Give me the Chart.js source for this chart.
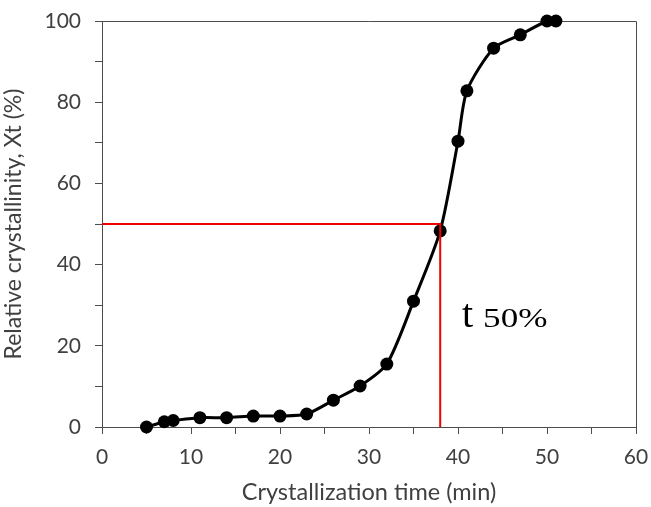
<!DOCTYPE html>
<html>
<head>
<meta charset="utf-8">
<script src="https://cdn.jsdelivr.net/npm/chart.js@4.4.1/dist/chart.umd.min.js"></script>
<style>
html,body{margin:0;padding:0;background:#fff;}
#c{display:block;}
</style>
</head>
<body>
<canvas id="c" width="651" height="507"></canvas>
<script>
// Data
const timeMin = [5, 7, 8, 11, 14, 17, 20, 23, 26, 29, 32, 35, 38, 40, 41, 44, 47, 50, 51];
const crystallinity = [0, 1.3, 1.6, 2.3, 2.3, 2.7, 2.7, 3.2, 6.6, 10.1, 15.5, 31, 48.3, 70.4, 82.8, 93.3, 96.6, 100, 100];
const t50GuideX = [0, 38, 38];
const t50GuideY = [50, 50, 0];
const xMajorTicks = [0, 10, 20, 30, 40, 50, 60];
const yMajorTicks = [0, 20, 40, 60, 80, 100];
const xTitle = 'Crystallization time (min)';
const yTitle = 'Relative crystallinity, Xt (%)';
const annoMain = 't';
const annoSub = '50%';
const annoPos = [40.45, 24.6]; // data coords of annotation

const axisGrey = '#4d4d4d';
const textGrey = '#404040';
const mainFont = 'Lato, "Open Sans", sans-serif';

const curve = timeMin.map((x, i) => ({x, y: crystallinity[i]}));
const guide = t50GuideX.map((x, i) => ({x, y: t50GuideY[i]}));

const framePlugin = {
  id: 'frame',
  beforeDatasetsDraw(chart) {
    const {ctx, chartArea: a} = chart;
    ctx.save();
    ctx.strokeStyle = axisGrey;
    ctx.lineWidth = 1;
    ctx.beginPath();
    ctx.moveTo(a.left, a.top + 0.5);
    ctx.lineTo(a.right + 0.5, a.top + 0.5);
    ctx.lineTo(a.right + 0.5, a.bottom);
    ctx.stroke();
    ctx.restore();
  },
  afterDatasetsDraw(chart) {
    const {ctx, scales} = chart;
    const px = scales.x.getPixelForValue(annoPos[0]);
    const py = scales.y.getPixelForValue(annoPos[1]);
    ctx.save();
    ctx.fillStyle = '#000';
    ctx.textBaseline = 'alphabetic';
    ctx.font = '40px "Liberation Serif", serif';
    ctx.fillText(annoMain, px, py);
    const tw = ctx.measureText(annoMain).width;
    ctx.translate(px + tw + 10, py);
    ctx.scale(1.3, 1);
    ctx.font = '27px "Liberation Serif", serif';
    ctx.fillText(annoSub, 0, 0);
    ctx.restore();
  }
};

new Chart(document.getElementById('c'), {
  type: 'scatter',
  data: {
    datasets: [
      {
        data: curve,
        showLine: true,
        borderColor: '#000',
        backgroundColor: '#000',
        borderWidth: 3,
        pointRadius: 6.5,
        pointHoverRadius: 6.5,
        pointBackgroundColor: '#000',
        pointBorderWidth: 0,
        tension: 0.25,
        clip: false,
        order: 2
      },
      {
        data: guide,
        showLine: true,
        borderColor: '#f00000',
        borderWidth: 2,
        pointRadius: 0,
        tension: 0,
        clip: false,
        order: 1
      }
    ]
  },
  options: {
    responsive: false,
    animation: false,
    events: [],
    layout: {padding: {top: 21, right: 15, left: 0, bottom: 0}},
    plugins: {legend: {display: false}, tooltip: {enabled: false}},
    scales: {
      x: {
        type: 'linear',
        min: 0, max: 60,
        afterFit(s) { s.height = 80; s.paddingLeft = 0; s.paddingRight = 0; },
        afterBuildTicks(s) {
          const t = [];
          for (let v = 0; v <= 60; v += 5) t.push({value: v});
          s.ticks = t;
        },
        ticks: {
          autoSkip: false, maxRotation: 0,
          color: textGrey,
          font: {family: mainFont, size: 21},
          padding: 11,
          callback: v => xMajorTicks.includes(v) ? String(v) : ''
        },
        grid: {drawOnChartArea: false, drawTicks: true, tickLength: 7, color: axisGrey, lineWidth: 1},
        border: {color: axisGrey, width: 1},
        title: {display: true, text: xTitle, color: textGrey, font: {family: mainFont, size: 23.5}, padding: {top: 2, bottom: 0}}
      },
      y: {
        type: 'linear',
        min: 0, max: 100,
        afterFit(s) { s.width = 102; s.paddingTop = 0; s.paddingBottom = 0; },
        afterBuildTicks(s) {
          const t = [];
          for (let v = 0; v <= 100; v += 10) t.push({value: v});
          s.ticks = t;
        },
        ticks: {
          autoSkip: false,
          color: textGrey,
          font: {family: mainFont, size: 21},
          padding: 14,
          callback: v => yMajorTicks.includes(v) ? String(v) : ''
        },
        grid: {drawOnChartArea: false, drawTicks: true, tickLength: 7, color: axisGrey, lineWidth: 1},
        border: {color: axisGrey, width: 1},
        title: {display: true, text: yTitle, color: textGrey, font: {family: mainFont, size: 23}, padding: {top: 0, bottom: 0}}
      }
    }
  },
  plugins: [framePlugin]
});
</script>
</body>
</html>
